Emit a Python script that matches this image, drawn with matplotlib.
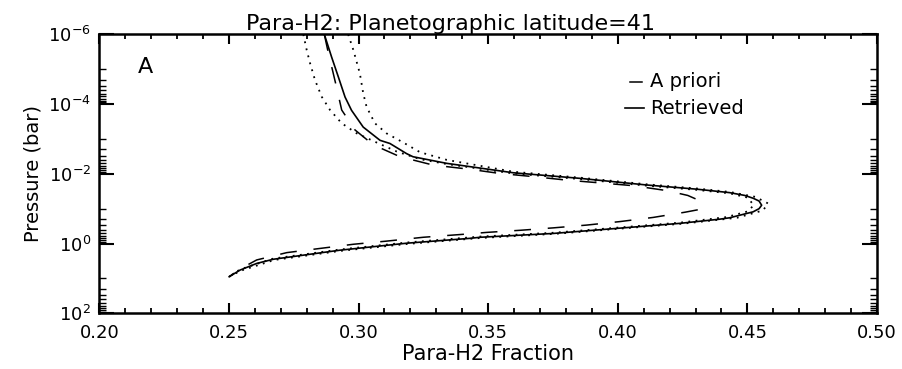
import numpy as np
import matplotlib
matplotlib.use('Agg')
import matplotlib.pyplot as plt
from matplotlib.lines import Line2D

# retrieved profile (para-H2 fraction vs log10 pressure)
ret_x = [0.2868, 0.2896, 0.2922, 0.2948, 0.2973, 0.3018, 0.3083, 0.3121, 0.3185, 0.3210,
         0.3340, 0.3597, 0.3854, 0.4111, 0.4304, 0.4394, 0.4432, 0.4490, 0.4522, 0.4545,
         0.4555, 0.4545, 0.4522, 0.4432, 0.4394, 0.4240, 0.4072, 0.3751, 0.3468, 0.3430,
         0.3185, 0.2928, 0.2671, 0.2607, 0.2543, 0.2501]
ret_logp = [-6.00, -5.35, -4.78, -4.20, -3.82, -3.34, -2.96, -2.87, -2.58, -2.49,
            -2.30, -2.03, -1.87, -1.68, -1.56, -1.49, -1.46, -1.38, -1.30, -1.22,
            -1.10, -1.00, -0.91, -0.74, -0.70, -0.58, -0.48, -0.29, -0.18, -0.15,
            -0.01, 0.19, 0.45, 0.57, 0.76, 0.95]

# a priori profile
apr_x = [0.2868, 0.2881, 0.2913, 0.2935, 0.2986, 0.3057, 0.3160, 0.3288, 0.3430, 0.3545,
         0.3674, 0.3802, 0.3931, 0.4059, 0.4188, 0.4270, 0.4310, 0.4328, 0.4310, 0.4260,
         0.4137, 0.4008, 0.3880, 0.3751, 0.3622, 0.3494, 0.3430, 0.3249, 0.3108, 0.2980,
         0.2851, 0.2723, 0.2607, 0.2545, 0.2501]
apr_logp = [-6.00, -5.55, -4.55, -3.83, -3.26, -2.83, -2.49, -2.25, -2.13, -2.01,
            -1.92, -1.82, -1.74, -1.66, -1.52, -1.38, -1.25, -1.08, -0.97, -0.90,
            -0.75, -0.63, -0.53, -0.45, -0.38, -0.32, -0.28, -0.18, -0.07, 0.02,
            0.14, 0.26, 0.47, 0.72, 0.95]

# error bounds
lo_x = [0.2787, 0.2800, 0.2813, 0.2832, 0.2858, 0.2890, 0.2935, 0.2993, 0.3063, 0.3147,
        0.3237, 0.3340, 0.3597, 0.3854, 0.4111, 0.4304, 0.4432, 0.4500, 0.4525, 0.4500,
        0.4420, 0.4240, 0.4072, 0.3751, 0.3468, 0.3185, 0.2928, 0.2671, 0.2543, 0.2501]
lo_logp = [-6.00, -5.55, -5.17, -4.69, -4.21, -3.83, -3.45, -3.16, -2.92, -2.64,
           -2.42, -2.28, -2.01, -1.85, -1.66, -1.54, -1.44, -1.32, -1.10, -0.92,
           -0.76, -0.60, -0.50, -0.31, -0.20, -0.03, 0.17, 0.43, 0.74, 0.95]
hi_x = [0.2960, 0.2980, 0.3005, 0.3018, 0.3031, 0.3063, 0.3108, 0.3172, 0.3237, 0.3340,
        0.3597, 0.3854, 0.4111, 0.4304, 0.4432, 0.4530, 0.4580, 0.4560, 0.4460, 0.4250,
        0.4080, 0.3760, 0.3470, 0.3190, 0.2930, 0.2675, 0.2545, 0.2501]
hi_logp = [-6.00, -5.55, -4.88, -4.31, -3.92, -3.45, -3.16, -2.90, -2.62, -2.40,
           -2.06, -1.89, -1.70, -1.58, -1.48, -1.34, -1.15, -0.95, -0.74, -0.57,
           -0.47, -0.28, -0.16, 0.01, 0.21, 0.47, 0.78, 0.95]

xticks = [0.20, 0.25, 0.30, 0.35, 0.40, 0.45, 0.50]
yticks = [1e-6, 1e-4, 1e-2, 1e0, 1e2]
ytick_labels = ['$10^{-6}$', '$10^{-4}$', '$10^{-2}$', '$10^{0}$', '$10^{2}$']

plt.rcParams['font.family'] = 'DejaVu Sans'
plt.rcParams['mathtext.fontset'] = 'dejavusans'

fig = plt.figure(figsize=(9.02, 3.69), dpi=100)
ax = fig.add_axes([0.1101, 0.1509, 0.8622, 0.7561])

ax.plot(lo_x, 10 ** np.array(lo_logp), color='k', lw=1.3, ls=(0, (1, 3)))
ax.plot(hi_x, 10 ** np.array(hi_logp), color='k', lw=1.3, ls=(0, (1, 3)))
ax.plot(apr_x, 10 ** np.array(apr_logp), color='k', lw=1.1, ls=(0, (11, 11)))
ax.plot(ret_x, 10 ** np.array(ret_logp), color='k', lw=1.2)

ax.set_yscale('log')
ax.set_xlim(0.20, 0.50)
ax.set_ylim(1e2, 1e-6)

ax.set_xticks(xticks)
ax.set_xticklabels(['%.2f' % v for v in xticks])
ax.set_xticks(np.arange(0.20, 0.501, 0.01), minor=True)
ax.set_yticks(yticks)
ax.set_yticklabels(ytick_labels)
minor_y = []
for e in [-5, -3, -1, 1]:
    minor_y += [m * 10.0 ** e for m in range(1, 10)]
ax.set_yticks(minor_y, minor=True)
ax.yaxis.set_minor_formatter(plt.NullFormatter())

ax.tick_params(axis='x', which='major', direction='in', length=7, width=1.5,
               top=True, labelsize=13, pad=8)
ax.tick_params(axis='x', which='minor', direction='in', length=3.5, width=1.3, top=True)
ax.tick_params(axis='y', which='major', direction='in', length=11, width=1.5,
               right=True, labelsize=13, pad=6)
ax.tick_params(axis='y', which='minor', direction='in', length=5, width=1.0, right=True)
for s in ax.spines.values():
    s.set_linewidth(1.8)

ax.set_xlabel('Para-H2 Fraction', fontsize=15, labelpad=1)
ax.set_ylabel('Pressure (bar)', fontsize=14, labelpad=4)
# IDL centres the title on the window, not on the plot box
ax.set_title('Para-H2: Planetographic latitude=41', fontsize=16, pad=3, x=0.452)

ax.text(0.215, 10 ** -4.89, 'A', fontsize=16)

# legend drawn by hand, IDL style
fig.add_artist(Line2D([630 / 902, 642 / 902], [1 - 81.7 / 369] * 2, color='k', lw=1.1))
fig.add_artist(Line2D([625 / 902, 644 / 902], [1 - 108.3 / 369] * 2, color='k', lw=1.2))
fig.text(650 / 902, 1 - 81.7 / 369, 'A priori', fontsize=14, va='center')
fig.text(650 / 902, 1 - 108.3 / 369, 'Retrieved', fontsize=14, va='center')

fig.savefig('out.png', dpi=100)
